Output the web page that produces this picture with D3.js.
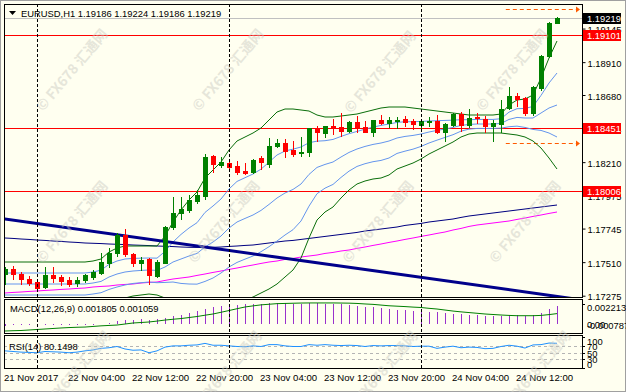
<!DOCTYPE html>
<html><head><meta charset="utf-8">
<script src="https://cdn.jsdelivr.net/npm/d3@7/dist/d3.min.js"></script>
<style>body{margin:0;background:#fff}text{font-family:"Liberation Sans",Arial,sans-serif}</style>
</head><body><svg id="c" width="626" height="392"></svg>
<script>
// ---------- DATA ----------
const symbolTitle = "EURUSD,H1  1.19186 1.19224 1.19186 1.19219";
const opens = [1.17429,1.17464,1.17429,1.17393,1.17372,1.17337,1.17422,1.17407,1.17386,1.17365,
1.17386,1.17407,1.17436,1.17506,1.17576,1.17702,1.17569,1.17506,1.17534,1.17414,
1.17506,1.17759,1.17857,1.17878,1.17941,1.17976,1.18250,1.18187,1.18201,1.18180,
1.18145,1.18138,1.18236,1.18194,1.18320,1.18341,1.18292,1.18271,1.18278,1.18446,
1.18411,1.18461,1.18453,1.18425,1.18489,1.18453,1.18418,1.18503,1.18482,1.18496,
1.18510,1.18496,1.18468,1.18489,1.18496,1.18418,1.18468,1.18545,1.18468,1.18524,
1.18510,1.18461,1.18475,1.18587,1.18671,1.18657,1.18552,1.18727,1.18952,1.19186];
const highs = [1.17478,1.17485,1.17443,1.17414,1.17393,1.17478,1.17478,1.17422,1.17407,1.17407,
1.17429,1.17457,1.17576,1.17611,1.17716,1.17744,1.17576,1.17548,1.17541,1.17527,
1.17766,1.17969,1.17969,1.17983,1.18018,1.18264,1.18257,1.18243,1.18229,1.18215,
1.18201,1.18229,1.18250,1.18376,1.18369,1.18369,1.18355,1.18383,1.18446,1.18461,
1.18461,1.18510,1.18552,1.18496,1.18531,1.18496,1.18503,1.18538,1.18524,1.18524,
1.18531,1.18510,1.18510,1.18524,1.18538,1.18482,1.18552,1.18559,1.18580,1.18552,
1.18531,1.18503,1.18643,1.18734,1.18692,1.18664,1.18741,1.18959,1.19191,1.19224];
const lows = [1.17358,1.17393,1.17358,1.17351,1.17323,1.17330,1.17372,1.17351,1.17344,1.17344,
1.17372,1.17393,1.17429,1.17478,1.17555,1.17555,1.17485,1.17457,1.17358,1.17407,
1.17506,1.17744,1.17815,1.17864,1.17927,1.17955,1.18138,1.18173,1.18159,1.18124,
1.18124,1.18131,1.18159,1.18173,1.18313,1.18243,1.18250,1.18250,1.18250,1.18355,
1.18383,1.18404,1.18390,1.18418,1.18418,1.18418,1.18390,1.18475,1.18453,1.18446,
1.18461,1.18439,1.18432,1.18461,1.18411,1.18355,1.18461,1.18425,1.18453,1.18482,
1.18418,1.18355,1.18418,1.18580,1.18601,1.18538,1.18538,1.18713,1.18945,1.19186];
const closes = [1.17464,1.17429,1.17393,1.17365,1.17330,1.17422,1.17400,1.17379,1.17358,1.17386,
1.17422,1.17443,1.17513,1.17576,1.17702,1.17569,1.17506,1.17527,1.17422,1.17513,
1.17759,1.17857,1.17885,1.17948,1.17983,1.18243,1.18194,1.18208,1.18173,1.18138,
1.18131,1.18222,1.18208,1.18320,1.18341,1.18285,1.18264,1.18278,1.18446,1.18418,
1.18461,1.18446,1.18425,1.18489,1.18453,1.18418,1.18503,1.18482,1.18503,1.18503,
1.18489,1.18475,1.18496,1.18496,1.18418,1.18475,1.18545,1.18468,1.18517,1.18517,
1.18461,1.18482,1.18580,1.18671,1.18650,1.18552,1.18734,1.18952,1.19186,1.19219];

// Bollinger Bands (20,2) green, (20,1) blue with middle line
const bbUpper2 = [1.17511,1.17511,1.17511,1.17511,1.17511,1.17511,1.17511,1.17511,1.17511,1.17511,
1.17511,1.17518,1.17532,1.17581,1.17609,1.17623,1.17623,1.17623,1.17623,1.17623,
1.17693,1.17791,1.17875,1.17945,1.18001,1.18099,1.18155,1.18211,1.18295,1.18358,
1.18386,1.18414,1.18449,1.18505,1.18561,1.18582,1.18582,1.18575,1.18568,1.18540,
1.18526,1.18526,1.18533,1.18540,1.18547,1.18561,1.18575,1.18589,1.18596,1.18596,
1.18596,1.18589,1.18582,1.18575,1.18568,1.18561,1.18554,1.18547,1.18540,1.18540,
1.18540,1.18540,1.18547,1.18610,1.18645,1.18652,1.18680,1.18799,1.18939,1.19058];
const bbLower2 = [1.17203,1.17203,1.17203,1.17203,1.17203,1.17203,1.17203,1.17203,1.17203,1.17203,
1.17203,1.17210,1.17217,1.17231,1.17245,1.17259,1.17273,1.17280,1.17287,1.17280,
1.17259,1.17231,1.17189,1.17161,1.17140,1.17133,1.17147,1.17175,1.17203,1.17224,
1.17245,1.17266,1.17294,1.17322,1.17357,1.17406,1.17455,1.17539,1.17679,1.17805,
1.17861,1.17896,1.17959,1.18015,1.18057,1.18078,1.18092,1.18099,1.18120,1.18162,
1.18183,1.18204,1.18232,1.18267,1.18295,1.18323,1.18351,1.18386,1.18407,1.18414,
1.18414,1.18414,1.18414,1.18407,1.18400,1.18386,1.18358,1.18309,1.18239,1.18162];
const bbMiddle = [1.17357,1.17357,1.17357,1.17357,1.17357,1.17357,1.17357,1.17357,1.17357,1.17357,
1.17357,1.17364,1.17375,1.17406,1.17427,1.17441,1.17448,1.17452,1.17455,1.17452,
1.17476,1.17511,1.17532,1.17553,1.17571,1.17616,1.17651,1.17693,1.17749,1.17791,
1.17816,1.17840,1.17872,1.17914,1.17959,1.17994,1.18019,1.18057,1.18124,1.18173,
1.18194,1.18211,1.18246,1.18278,1.18302,1.18320,1.18334,1.18344,1.18358,1.18379,
1.18390,1.18397,1.18407,1.18421,1.18432,1.18442,1.18453,1.18467,1.18474,1.18477,
1.18477,1.18477,1.18481,1.18509,1.18523,1.18519,1.18519,1.18554,1.18589,1.18610];
const bbUpper1 = [1.17434,1.17434,1.17434,1.17434,1.17434,1.17434,1.17434,1.17434,1.17434,1.17434,
1.17434,1.17441,1.17454,1.17494,1.17518,1.17532,1.17536,1.17538,1.17539,1.17538,
1.17585,1.17651,1.17704,1.17749,1.17786,1.17858,1.17903,1.17952,1.18022,1.18075,
1.18101,1.18127,1.18161,1.18210,1.18260,1.18288,1.18301,1.18316,1.18346,1.18357,
1.18360,1.18369,1.18390,1.18409,1.18425,1.18441,1.18455,1.18467,1.18477,1.18488,
1.18493,1.18493,1.18495,1.18498,1.18500,1.18502,1.18504,1.18507,1.18507,1.18509,
1.18509,1.18509,1.18514,1.18560,1.18584,1.18586,1.18600,1.18677,1.18764,1.18834];
const bbLower1 = [1.17280,1.17280,1.17280,1.17280,1.17280,1.17280,1.17280,1.17280,1.17280,1.17280,
1.17280,1.17287,1.17296,1.17319,1.17336,1.17350,1.17361,1.17366,1.17371,1.17366,
1.17368,1.17371,1.17361,1.17357,1.17356,1.17375,1.17399,1.17434,1.17476,1.17508,
1.17531,1.17553,1.17583,1.17618,1.17658,1.17700,1.17737,1.17798,1.17902,1.17989,
1.18028,1.18054,1.18103,1.18147,1.18180,1.18199,1.18213,1.18222,1.18239,1.18271,
1.18287,1.18301,1.18320,1.18344,1.18364,1.18383,1.18402,1.18427,1.18441,1.18446,
1.18446,1.18446,1.18448,1.18458,1.18462,1.18453,1.18439,1.18432,1.18414,1.18386];
// Moving averages
const maMagenta = [1.17294,1.17298,1.17301,1.17305,1.17308,1.17312,1.17315,1.17319,1.17322,1.17326,
1.17329,1.17336,1.17340,1.17343,1.17350,1.17354,1.17357,1.17364,1.17368,1.17371,
1.17382,1.17392,1.17399,1.17406,1.17417,1.17427,1.17438,1.17448,1.17459,1.17469,
1.17480,1.17490,1.17501,1.17511,1.17518,1.17529,1.17536,1.17546,1.17553,1.17560,
1.17571,1.17578,1.17588,1.17595,1.17606,1.17616,1.17627,1.17637,1.17648,1.17658,
1.17669,1.17679,1.17690,1.17700,1.17711,1.17721,1.17735,1.17746,1.17760,1.17770,
1.17777,1.17784,1.17791,1.17798,1.17809,1.17819,1.17830,1.17840,1.17851,1.17861];
const maNavy = [1.17679,1.17676,1.17672,1.17669,1.17665,1.17662,1.17658,1.17655,1.17651,1.17648,
1.17644,1.17642,1.17640,1.17637,1.17635,1.17633,1.17630,1.17628,1.17626,1.17623,
1.17621,1.17619,1.17616,1.17614,1.17613,1.17613,1.17614,1.17616,1.17620,1.17623,
1.17627,1.17630,1.17637,1.17644,1.17651,1.17658,1.17662,1.17669,1.17676,1.17683,
1.17690,1.17697,1.17704,1.17711,1.17718,1.17728,1.17735,1.17742,1.17749,1.17756,
1.17767,1.17774,1.17781,1.17791,1.17798,1.17805,1.17812,1.17823,1.17833,1.17840,
1.17847,1.17854,1.17861,1.17868,1.17875,1.17882,1.17889,1.17896,1.17903,1.17910];
// Trend line anchors [barIndex, price]
const trendAnchors = [[0, 1.17812], [69, 1.17270]];
// Horizontal levels
const redLevels = [1.19101, 1.18451, 1.18006];
const currentPrice = 1.19219;
const targetLevels = [1.19282, 1.18344];
const targetStartBar = 62.6;
const daySeparators = [4, 28, 52];
// Price axis labels
const priceTicks = [1.19145, 1.18910, 1.18680, 1.18451, 1.18210, 1.17975, 1.17745, 1.17510, 1.17275];
// Time axis
const timeTickBars = [0, 8, 16, 24, 32, 40, 48, 56, 64];
const timeTickLabels = ["21 Nov 2017","22 Nov 04:00","22 Nov 12:00","22 Nov 20:00","23 Nov 04:00","23 Nov 12:00","23 Nov 20:00","24 Nov 04:00","24 Nov 12:00"];
// MACD(12,26,9)
const macdMain = [-0.00012,-0.00011,-0.0001,-0.0001,-0.00011,-0.0001,-0.00008,-0.00008,-0.00009,-0.00008,
-0.00006,-0.00003,0.00004,0.00015,0.00032,0.00042,0.00045,0.00048,0.00046,0.00048,
0.0006,0.00078,0.00095,0.00112,0.0013,0.00155,0.00168,0.0018,0.00188,0.00192,
0.00196,0.002,0.00202,0.00207,0.0021,0.00208,0.00205,0.002,0.00208,0.00206,
0.00205,0.002,0.00197,0.0019,0.00182,0.00172,0.00168,0.00158,0.0015,0.00142,
0.00138,0.00136,0.00128,0.00122,0.00118,0.0011,0.00103,0.00098,0.00092,0.00088,
0.00084,0.00082,0.00085,0.00088,0.00088,0.00082,0.00092,0.00108,0.00148,0.001805];
const macdSignal = [-0.00066,-0.00063,-0.00061,-0.00056,-0.00051,-0.00046,-0.00041,-0.00036,-0.00032,-0.00029,
-0.00027,-0.00021,-0.00015,-0.00011,-0.00007,0.00003,0.00013,0.00018,0.00023,0.00032,
0.00042,0.0005,0.00057,0.00067,0.00077,0.0009,0.00102,0.00119,0.00136,0.00154,
0.00171,0.00182,0.00192,0.00198,0.00204,0.00206,0.00208,0.0021,0.00211,0.00211,
0.00211,0.00211,0.0021,0.00209,0.00206,0.00201,0.00197,0.0019,0.00183,0.00179,
0.00175,0.0017,0.00166,0.00158,0.00151,0.00141,0.00131,0.00123,0.00116,0.00109,
0.00102,0.00097,0.00092,0.00088,0.00085,0.00085,0.00085,0.00088,0.00096,0.001059];
const macdTicks = ["0.002213", "0.00", "-0.000787"];
// RSI(14)
const rsi = [56,54,52,51,50,54,53,52,50,52,
56,59,64,66,70,62,58,59,50,56,
68,72,72,74,75,80,74,74,72,70,
69,72,70,76,76,72,70,70,76,74,
76,74,73,74,73,70,73,72,73,73,
72,70,71,71,64,68,71,66,68,67,
63,64,70,74,71,65,75,76,81,80.1498];
const rsiLevels = [70, 50, 30];
const rsiTicks = [100, 70, 50, 30, 0];
const watermark = "© FX678 汇通网";

// ---------- DRAW ----------
const svg = d3.select("#c");
const BG = "#FFFFF0";
const L = 4, R = 582;
const P = {main:[4,297], macd:[299,333], rsi:[335,368]};
svg.append("rect").attr("width",626).attr("height",392).attr("fill",BG);
svg.append("rect").attr("x",0.5).attr("y",0.5).attr("width",625).attr("height",391)
  .attr("fill","none").attr("stroke","#a0a0a0");

const x = d3.scaleLinear().domain([0,69]).range([5,557]);
const y = d3.scaleLinear().domain([1.17266,1.19317]).range([297,4]);
const my = d3.scaleLinear().domain([-0.000787,0.002213]).range([332.3,301.9]);
const ry = d3.scaleLinear().domain([0,100]).range([368.4,337.1]);
const px = i => Math.round(x(i));
const font = "9.4px";

const defs = svg.append("defs");
Object.entries(P).forEach(([k,[t,b]])=>{
  defs.append("clipPath").attr("id","clip-"+k).append("rect")
    .attr("x",L+1).attr("y",t+1).attr("width",R-L-1).attr("height",b-t-1);
});
const gMain = svg.append("g").attr("clip-path","url(#clip-main)");
const gMacd = svg.append("g").attr("clip-path","url(#clip-macd)");
const gRsi = svg.append("g").attr("clip-path","url(#clip-rsi)");

// horizontal levels
gMain.append("line").attr("x1",L).attr("x2",R).attr("y1",Math.round(y(currentPrice))+0.5).attr("y2",Math.round(y(currentPrice))+0.5)
  .attr("stroke","#c0c0c0");
redLevels.forEach(v=>{
  const yy = Math.round(y(v))+0.5;
  gMain.append("line").attr("x1",L).attr("x2",R).attr("y1",yy).attr("y2",yy).attr("stroke","#ff0000");
});
targetLevels.forEach(v=>{
  const yy = Math.round(y(v))+0.5;
  gMain.append("line").attr("x1",x(targetStartBar)).attr("x2",R-5).attr("y1",yy).attr("y2",yy)
    .attr("stroke","#ff5a00").attr("stroke-dasharray","4,3");
  gMain.append("path").attr("d",`M${R-6},${yy-3}L${R-2},${yy}L${R-6},${yy+3}Z`).attr("fill","#ff5a00");
});

// indicator lines
const line = d3.line().x((d,i)=>x(i)).y(d=>y(d));
[[maMagenta,"#ff00ff",1],[maNavy,"#000080",1],
 [bbUpper1,"#6495ed",1],[bbMiddle,"#6495ed",1],[bbLower1,"#6495ed",1],
 [bbUpper2,"#0a6e0a",1],[bbLower2,"#0a6e0a",1]].forEach(([arr,c,w])=>{
  gMain.append("path").attr("d",line(arr)).attr("fill","none").attr("stroke",c).attr("stroke-width",w);
});
// trend line (extended both ways)
const [a0,a1] = trendAnchors;
const slope = (a1[1]-a0[1])/(a1[0]-a0[0]);
gMain.append("line").attr("x1",x(-2)).attr("y1",y(a0[1]+slope*(-2-a0[0])))
  .attr("x2",x(75)).attr("y2",y(a0[1]+slope*(75-a0[0])))
  .attr("stroke","#00008b").attr("stroke-width",3);

// candles
const cg = gMain.append("g").attr("shape-rendering","crispEdges");
opens.forEach((o,i)=>{
  const c = closes[i], up = c>=o, col = up?"#008000":"#ff0000";
  const cx = px(i);
  cg.append("line").attr("x1",cx+0.5).attr("x2",cx+0.5).attr("y1",Math.round(y(highs[i]))).attr("y2",Math.round(y(lows[i]))+1)
    .attr("stroke",col);
  const t = Math.round(y(Math.max(o,c))), b = Math.round(y(Math.min(o,c)));
  cg.append("rect").attr("x",cx-2).attr("y",t).attr("width",5).attr("height",Math.max(1,b-t+1)).attr("fill",col);
});

// day separators across all panels
Object.entries(P).forEach(([k,[t,b]])=>{
  daySeparators.forEach(d=>{
    svg.append("line").attr("x1",px(d)+0.5).attr("x2",px(d)+0.5).attr("y1",t).attr("y2",b)
      .attr("stroke","#000").attr("stroke-dasharray","3,2");
  });
});

// MACD
const mg = gMacd.append("g").attr("shape-rendering","crispEdges");
macdMain.forEach((v,i)=>{
  mg.append("line").attr("x1",px(i)+0.5).attr("x2",px(i)+0.5)
    .attr("y1",Math.round(my(0))).attr("y2",Math.round(my(v))).attr("stroke","#9932cc");
});
gMacd.append("path").attr("d",d3.line().x((d,i)=>x(i)).y(d=>my(d))(macdSignal))
  .attr("fill","none").attr("stroke","#008000");

// RSI
rsiLevels.forEach(v=>{
  gRsi.append("line").attr("x1",L).attr("x2",R).attr("y1",Math.round(ry(v))+0.5).attr("y2",Math.round(ry(v))+0.5)
    .attr("stroke","#b4b4b4").attr("stroke-dasharray","3,3");
});
gRsi.append("path").attr("d",d3.line().x((d,i)=>x(i)).y(d=>ry(d))(rsi))
  .attr("fill","none").attr("stroke","#1e90ff");

// panel borders
Object.values(P).forEach(([t,b])=>{
  svg.append("rect").attr("x",L+0.5).attr("y",t+0.5).attr("width",R-L).attr("height",b-t)
    .attr("fill","none").attr("stroke","#000").attr("shape-rendering","crispEdges");
});

// price axis
const ax = svg.append("g").attr("transform",`translate(${R+0.5},0)`)
  .call(d3.axisRight(y).tickValues(priceTicks).tickFormat(d3.format(".5f")).tickSizeInner(3).tickSizeOuter(0).tickPadding(2));
ax.select(".domain").remove();
ax.selectAll("text").attr("font-size",font).attr("fill","#000").attr("dy","0.45em");
ax.selectAll("line").attr("stroke","#000");
function tag(v, fill){
  const yy = Math.round(y(v));
  svg.append("rect").attr("x",R+1).attr("y",yy-5).attr("width",38).attr("height",11).attr("fill",fill);
  svg.append("text").attr("x",R+5).attr("y",yy+4).attr("font-size",font).attr("fill","#fff").text(d3.format(".5f")(v));
}
redLevels.forEach(v=>tag(v,"#ff0000"));
tag(currentPrice,"#000");

// MACD axis labels
svg.append("line").attr("x1",R).attr("x2",R+3).attr("y1",304.5).attr("y2",304.5).attr("stroke","#000");
svg.append("text").attr("x",R+5).attr("y",311).attr("font-size",font).text(macdTicks[0]);
svg.append("text").attr("x",R+5).attr("y",329).attr("font-size",font).text(macdTicks[2]);
svg.append("text").attr("x",R+5).attr("y",328).attr("font-size",font).text(macdTicks[1]);
// RSI axis labels
rsiTicks.forEach(v=>{
  const yy = v===100 ? ry(v)+7.5 : v===0 ? ry(v)-0.5 : ry(v)+4;
  svg.append("line").attr("x1",R).attr("x2",R+3).attr("y1",Math.round(ry(v))+0.5).attr("y2",Math.round(ry(v))+0.5).attr("stroke","#000");
  svg.append("text").attr("x",R+5).attr("y",yy).attr("font-size",font).text(v);
});

// time axis
timeTickBars.forEach((b,i)=>{
  svg.append("text").attr("x",px(b)-1).attr("y",381).attr("font-size","9.6px").text(timeTickLabels[i]);
});

// headers
svg.append("path").attr("d","M9,11L16,11L12.5,15Z").attr("fill","#000");
svg.append("text").attr("x",21).attr("y",16.5).attr("font-size","9.4px").text(symbolTitle);
svg.append("text").attr("x",10).attr("y",312).attr("font-size","9.4px")
  .text(`MACD(12,26,9) ${macdMain[69].toFixed(6)} ${macdSignal[69].toFixed(6)}`);
svg.append("text").attr("x",9).attr("y",350).attr("font-size","9.4px")
  .text(`RSI(14) ${rsi[69].toFixed(4)}`);

// watermarks
[[72,70],[228,70],[380,72],[512,70],[72,222],[224,222],[378,222],[525,222],[75,372],[226,372],[382,372],[535,372]].forEach(([cx,cy])=>{
  svg.append("text").attr("transform",`translate(${cx},${cy}) rotate(-50)`).attr("text-anchor","middle")
    .attr("dy","0.35em").attr("font-size","14px").attr("font-weight","bold")
    .attr("style","font-family:'Noto Sans CJK SC','Noto Sans',sans-serif")
    .attr("fill","#c8c8c0").attr("opacity",0.45).text(watermark);
});
</script></body></html>
